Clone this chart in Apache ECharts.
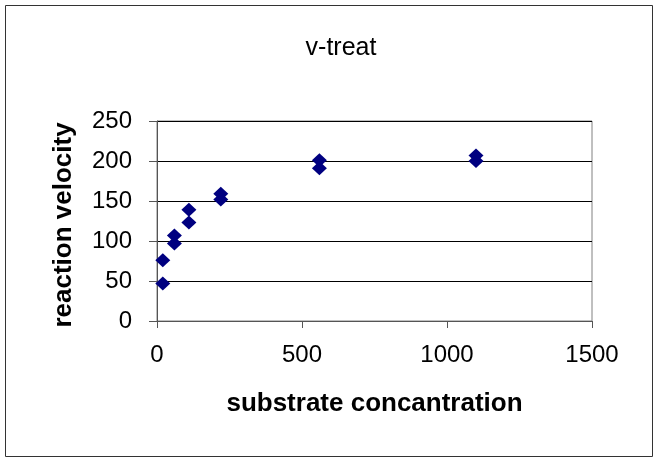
<!DOCTYPE html>
<html>
<head>
<meta charset="utf-8">
<script src="https://cdn.jsdelivr.net/npm/echarts@6/dist/echarts.min.js"></script>
<style>
  html, body { margin: 0; padding: 0; background: #fff; }
  #main { width: 659px; height: 462px; }
</style>
</head>
<body>
<div id="main"></div>
<script>
// substrate concentration (x) and reaction velocity (y)
const concentration = [20, 20, 60, 60, 110, 110, 220, 220, 560, 560, 1100, 1100];
const velocity = [76, 47, 97, 107, 123, 139, 159, 152, 191, 201, 207, 200];
const points = concentration.map((c, i) => [c, velocity[i]]);

const chart = echarts.init(document.getElementById('main'));
const option = {
    animation: false,
    backgroundColor: '#fff',
    title: {
        text: 'v-treat',
        left: 336,
        top: 31,
        textAlign: 'center',
        textStyle: {
            fontFamily: 'Liberation Sans, Arial',
            fontSize: 25,
            fontWeight: 'normal',
            color: '#000'
        }
    },
    graphic: [{
        type: 'rect',
        shape: { x: 5.5, y: 5.5, width: 647, height: 451 },
        style: { fill: null, stroke: '#333', lineWidth: 1 },
        z: -1
    }],
    grid: {
        left: 157,
        right: 67,
        top: 121,
        bottom: 141,
        show: true,
        borderColor: '#808080',
        borderWidth: 1
    },
    xAxis: {
        type: 'value',
        min: 0,
        max: 1500,
        interval: 500,
        name: 'substrate concantration',
        nameLocation: 'middle',
        nameGap: 70,
        nameMoveOverlap: false,
        nameTextStyle: {
            fontFamily: 'Liberation Sans, Arial',
            fontSize: 26,
            fontWeight: 'bold',
            color: '#000'
        },
        axisLine: { show: true, lineStyle: { color: '#555', width: 1 } },
        axisTick: { show: true, length: 7, lineStyle: { color: '#555' } },
        axisLabel: {
            margin: 22,
            fontFamily: 'Liberation Sans, Arial',
            fontSize: 24,
            color: '#000',
            formatter: (v) => String(v)
        },
        splitLine: { show: false }
    },
    yAxis: {
        type: 'value',
        min: 0,
        max: 250,
        interval: 50,
        name: 'reaction velocity',
        nameLocation: 'middle',
        nameGap: 80,
        nameMoveOverlap: false,
        nameTextStyle: {
            fontFamily: 'Liberation Sans, Arial',
            fontSize: 26,
            fontWeight: 'bold',
            color: '#000',
            padding: [0, 8, 0, 0]
        },
        axisLine: { show: true, lineStyle: { color: '#555', width: 1 } },
        axisTick: { show: true, length: 8, lineStyle: { color: '#555' } },
        axisLabel: {
            margin: 25,
            fontFamily: 'Liberation Sans, Arial',
            fontSize: 24,
            color: '#000',
            formatter: (v) => String(v)
        },
        splitLine: { show: true, lineStyle: { color: '#000', width: 1 } }
    },
    series: [{
        type: 'scatter',
        data: points,
        symbol: 'diamond',
        symbolSize: [15, 14],
        itemStyle: { color: '#000080', opacity: 1 }
    }]
};
chart.setOption(option);
</script>
</body>
</html>
